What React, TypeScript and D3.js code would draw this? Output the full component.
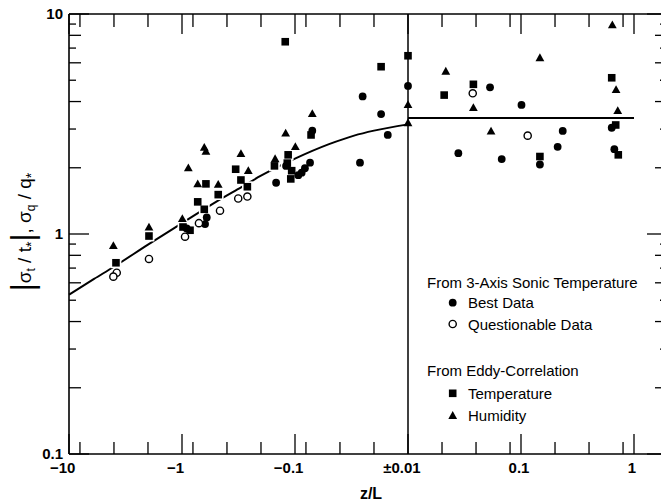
import React from 'react';
import * as d3 from 'd3';

const W = 661;
const H = 502;

// x axis (z/L), symmetric log: ticks
const xMajor = [-10, -1, -0.1, 0.01, 0.1, 1];
const xMajorLabels = ['−10', '−1', '−0.1', '±0.01', '0.1', '1'];
const xMajorNum = ['10', '1', '0.1', '0.01', '0.1', '1'];
const xMinor = [-8, -4, -2, -0.8, -0.4, -0.2, -0.08, -0.04, -0.02, 0.02, 0.04, 0.08, 0.2, 0.4, 0.8];
// y axis (log)
const yMajor = [0.1, 1, 10];
const yMajorLabels = ['0.1', '1', '10'];
const yMinorEven = [0.2, 0.4, 0.6, 0.8, 2, 4, 6, 8];
const yMinorOdd = [0.3, 0.5, 0.7, 0.9, 3, 5, 7, 9];

// From 3-Axis Sonic Temperature: Best Data
const bestZ = [-0.908, -0.604, -0.625, -0.147, -0.120, -0.0935, -0.0873, -0.0817, -0.0736, -0.0703, -0.0252, -0.0173, -0.0151, -0.0266, 0.01, 0.0279, 0.0532, 0.0675, 0.101, 0.147, 0.211, 0.234, 0.635, 0.670];
const bestV = [1.06, 1.19, 1.11, 1.71, 2.04, 1.85, 1.90, 1.99, 2.11, 2.95, 4.22, 3.51, 2.82, 2.11, 4.71, 2.33, 4.64, 2.19, 3.86, 2.07, 2.49, 2.94, 3.04, 2.43];
// Questionable Data
const questZ = [-3.78, -4.05, -1.96, -0.94, -0.708, -0.461, -0.318, -0.264, 0.0374, 0.1146];
const questV = [0.667, 0.64, 0.77, 0.972, 1.12, 1.276, 1.45, 1.48, 4.36, 2.80];
// From Eddy-Correlation: Temperature
const tempZ = [-3.84, -1.96, -0.98, -0.849, -0.614, -0.726, -0.635, -0.478, -0.335, -0.301, -0.264, -0.152, -0.122, -0.115, -0.117, -0.107, -0.109, -0.0721, -0.0173, 0.01, 0.0209, 0.0379, 0.147, 0.635, 0.689, 0.726];
const tempV = [0.74, 0.979, 1.076, 1.04, 1.69, 1.40, 1.295, 1.51, 1.97, 1.76, 1.64, 2.04, 7.48, 2.29, 2.10, 1.94, 1.78, 2.82, 5.76, 6.46, 4.28, 4.79, 2.25, 5.13, 3.13, 2.29];
// Humidity
const humZ = [-4.05, -1.96, -0.993, -0.879, -0.635, -0.614, -0.726, -0.478, -0.301, -0.259, -0.150, -0.121, -0.0993, -0.0703, 0.01, 0.01, 0.0216, 0.0379, 0.0543, 0.147, 0.643, 0.694, 0.718];
const humV = [0.891, 1.08, 1.18, 2.01, 2.49, 2.39, 1.70, 1.69, 2.33, 1.95, 2.21, 2.89, 2.51, 3.54, 3.89, 3.22, 5.52, 3.77, 2.95, 6.36, 8.98, 4.56, 3.66];

// Fitted curve (unstable side) and constant (stable side)
const curveZ = [-10, -6, -4, -2, -1, -0.5, -0.3, -0.2, -0.1, -0.05, -0.03, -0.02, -0.01];
const curveV = [0.53, 0.625, 0.71, 0.895, 1.12, 1.40, 1.63, 1.84, 2.20, 2.56, 2.80, 2.95, 3.15];
const stableZ = [0.01, 1];
const stableV = [3.37, 3.37];

const tz = (z: number) => (z < 0 ? -(Math.log10(-z) + 2) : Math.log10(z) + 2);
const xs = d3.scaleLinear().domain([-3, 2]).range([69, 634]);
const X = (z: number) => xs(tz(z));
const Y = d3.scaleLog().domain([0.1, 10]).range([454, 14]);

const LEFT = 69;
const RIGHT = 667;
const TOP = 14;
const BOTTOM = 454;

const FONT = '"Liberation Sans", Arial, Helvetica, sans-serif';

type Shape = 'circle' | 'open' | 'square' | 'tri';

function Marker({ x, y, shape, halo = 0 }: { x: number; y: number; shape: Shape; halo?: number }) {
  const fill = halo ? 'white' : shape === 'open' ? 'white' : 'black';
  const stroke = halo ? 'white' : 'black';
  const sw = halo ? halo * 2 : shape === 'open' ? 1.4 : 0;
  if (shape === 'circle' || shape === 'open') {
    return <circle cx={x} cy={y} r={shape === 'open' ? 3.6 : 3.9} fill={fill} stroke={stroke} strokeWidth={sw} />;
  }
  if (shape === 'square') {
    const s = 7.6;
    return <rect x={x - s / 2} y={y - s / 2} width={s} height={s} fill={fill} stroke={stroke} strokeWidth={sw} />;
  }
  const w = 8.8, h = 7.8;
  const p = `M${x},${y - h / 2}L${x + w / 2},${y + h / 2}L${x - w / 2},${y + h / 2}Z`;
  return <path d={p} fill={fill} stroke={stroke} strokeWidth={sw} strokeLinejoin="miter" />;
}

const digitW = (s: string, fs: number) =>
  s.split('').reduce((a, c) => a + (c === '.' ? 0.278 : 0.556) * fs, 0);

export default function App() {
  const series: { z: number[]; v: number[]; shape: Shape }[] = [
    { z: humZ, v: humV, shape: 'tri' },
    { z: tempZ, v: tempV, shape: 'square' },
    { z: bestZ, v: bestV, shape: 'circle' },
    { z: questZ, v: questV, shape: 'open' },
  ];

  const line = d3
    .line<number>()
    .x((_, i) => X(curveZ[i]))
    .y((_, i) => Y(curveV[i]))
    .curve(d3.curveMonotoneX);
  const stableLine = d3
    .line<number>()
    .x((_, i) => X(stableZ[i]))
    .y((_, i) => Y(stableV[i]));

  const tickStroke = 1.3;

  return (
    <svg
      width={W}
      height={H}
      style={{ position: 'absolute', left: 0, top: 0, background: 'white' }}
      fontFamily={FONT}
    >
      <rect x={0} y={0} width={W} height={H} fill="white" />

      {/* frame */}
      <line x1={LEFT} x2={LEFT} y1={TOP} y2={BOTTOM} stroke="black" strokeWidth={1.6} />
      <line x1={LEFT} x2={RIGHT} y1={TOP} y2={TOP} stroke="black" strokeWidth={1.6} />
      <line x1={LEFT} x2={RIGHT} y1={BOTTOM} y2={BOTTOM} stroke="black" strokeWidth={1.6} />
      <line x1={RIGHT} x2={RIGHT} y1={TOP} y2={BOTTOM} stroke="black" strokeWidth={1.6} />

      {/* x ticks bottom and top */}
      {xMajor.map((z, i) => (
        <g key={'xM' + i}>
          <line x1={X(z)} x2={X(z)} y1={BOTTOM} y2={BOTTOM - 20} stroke="black" strokeWidth={tickStroke} />
          <line x1={X(z)} x2={X(z)} y1={TOP} y2={TOP + 20} stroke="black" strokeWidth={tickStroke} />
        </g>
      ))}
      {xMinor.map((z, i) => (
        <g key={'xm' + i}>
          <line x1={X(z)} x2={X(z)} y1={BOTTOM} y2={BOTTOM - 12} stroke="black" strokeWidth={tickStroke} />
          <line x1={X(z)} x2={X(z)} y1={TOP} y2={TOP + 13} stroke="black" strokeWidth={tickStroke} />
        </g>
      ))}

      {/* y ticks left and right */}
      {yMajor.map((v, i) => (
        <g key={'yM' + i}>
          <line x1={LEFT} x2={LEFT + 20} y1={Y(v)} y2={Y(v)} stroke="black" strokeWidth={tickStroke} />
          <line x1={RIGHT} x2={RIGHT - 20} y1={Y(v)} y2={Y(v)} stroke="black" strokeWidth={tickStroke} />
        </g>
      ))}
      {yMinorEven.map((v, i) => (
        <g key={'ye' + i}>
          <line x1={LEFT} x2={LEFT + 12} y1={Y(v)} y2={Y(v)} stroke="black" strokeWidth={tickStroke} />
          <line x1={RIGHT} x2={RIGHT - 12} y1={Y(v)} y2={Y(v)} stroke="black" strokeWidth={tickStroke} />
        </g>
      ))}
      {yMinorOdd.map((v, i) => (
        <g key={'yo' + i}>
          <line x1={LEFT} x2={LEFT + 7} y1={Y(v)} y2={Y(v)} stroke="black" strokeWidth={tickStroke} />
          <line x1={RIGHT} x2={RIGHT - 7} y1={Y(v)} y2={Y(v)} stroke="black" strokeWidth={tickStroke} />
        </g>
      ))}

      {/* tick labels */}
      {yMajorLabels.map((s, i) => (
        <text key={'yl' + i} x={63} y={Y(yMajor[i]) + (i === 0 ? 4.5 : 5.3)} textAnchor="end" fontSize={15} fontWeight="bold">
          {s}
        </text>
      ))}
      {xMajorLabels.map((s, i) => (
        <text
          key={'xl' + i}
          x={X(xMajor[i]) - 2 + digitW(xMajorNum[i], 15) / 2}
          y={473}
          textAnchor="end"
          fontSize={15}
          fontWeight="bold"
        >
          {s}
        </text>
      ))}

      {/* axis titles */}
      <text x={371} y={499} textAnchor="middle" fontSize={16} fontWeight="bold">
        z/L
      </text>
      <text transform="translate(31,232) rotate(-90)" textAnchor="middle" fontSize={19}>
        <tspan fontSize={31} dy={2}>|</tspan>
        <tspan dy={-2}>σ</tspan>
        <tspan fontSize={12} dy={4}>t</tspan>
        <tspan dy={-4}> / t</tspan>
        <tspan fontSize={14} dy={5}>*</tspan>
        <tspan fontSize={31} dy={-3}>|</tspan>
        <tspan dy={-2}>, σ</tspan>
        <tspan fontSize={12} dy={4}>q</tspan>
        <tspan dy={-4}> / q</tspan>
        <tspan fontSize={14} dy={5}>*</tspan>
      </text>

      {/* reference lines */}
      <line x1={X(0.01)} x2={X(0.01)} y1={TOP} y2={BOTTOM} stroke="black" strokeWidth={1.5} />
      <path d={line(curveZ) || ''} fill="none" stroke="black" strokeWidth={2} />
      <path d={stableLine(stableZ) || ''} fill="none" stroke="black" strokeWidth={2} />

      {/* halos for line gaps */}
      {series.map((s, si) =>
        s.z.map((z, i) =>
          z < 0 ? <Marker key={`h${si}-${i}`} x={X(z)} y={Y(s.v[i])} shape={s.shape} halo={1.6} /> : null
        )
      )}
      {/* data markers */}
      {series.map((s, si) =>
        s.z.map((z, i) => <Marker key={`m${si}-${i}`} x={X(z)} y={Y(s.v[i])} shape={s.shape} />)
      )}

      {/* legend */}
      <g fontSize={15}>
        <text x={427} y={287.5}>From 3-Axis Sonic Temperature</text>
        <Marker x={452.7} y={302.7} shape="circle" />
        <text x={468} y={308}>Best Data</text>
        <Marker x={452.7} y={324} shape="open" />
        <text x={468} y={329.5}>Questionable Data</text>
        <text x={427} y={375.5}>From Eddy-Correlation</text>
        <Marker x={452.7} y={393.3} shape="square" />
        <text x={468} y={398.5}>Temperature</text>
        <Marker x={452.7} y={415} shape="tri" />
        <text x={468} y={420.5}>Humidity</text>
      </g>
    </svg>
  );
}
